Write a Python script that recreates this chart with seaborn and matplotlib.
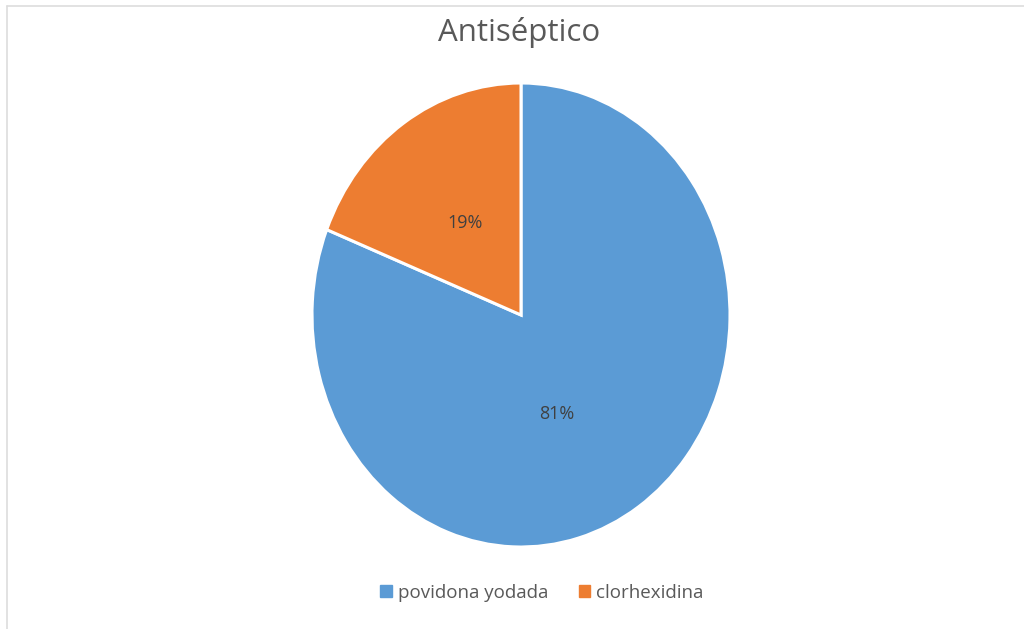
import matplotlib
matplotlib.use("Agg")
import matplotlib.pyplot as plt
import seaborn as sns
from matplotlib.lines import Line2D

categories = ["povidona yodada", "clorhexidina"]
values = [81, 19]
colors = ["#5B9BD5", "#ED7D31"]
title = "Antiséptico"

sns.set_theme(style="white")
plt.rcParams['font.family'] = ['Open Sans', 'DejaVu Sans']
palette = sns.color_palette(colors)

fig = plt.figure(figsize=(10.24, 6.29), dpi=100)
fig.patch.set_facecolor("white")

# faint chart-area border (left and top)
fig.add_artist(Line2D([7/1024, 7/1024], [0, 1 - 6/629], color="#dddddd", lw=1.2))
fig.add_artist(Line2D([7/1024, 1], [1 - 6/629, 1 - 6/629], color="#dddddd", lw=1.2))

ax = fig.add_axes([312/1024, (629-547)/629, 418/1024, 464/629])
wedges, texts, autotexts = ax.pie(
    values, colors=palette, startangle=90, counterclock=False,
    autopct=lambda p: f"{p:.0f}%", pctdistance=0.48,
    wedgeprops=dict(edgecolor="white", linewidth=2.2),
    textprops=dict(color="#404040", fontsize=13),
)
# Excel-like label placement for the large slice
autotexts[0].set_position((0.17, -0.425))
ax.set_aspect('auto')
ax.set_xlim(-1, 1)
ax.set_ylim(-1, 1)
ax.axis('off')

fig.text(519/1024, 1 - 33/629, title, ha="center", va="center",
         fontsize=22.5, color="#595959")

handles = [plt.Rectangle((0, 0), 1, 1, color=c) for c in palette]
fig.legend(handles, categories, loc="center", bbox_to_anchor=(542/1024, 1 - 593/629),
           ncol=2, frameon=False, fontsize=13.5, labelcolor="#595959",
           handlelength=0.6, handleheight=0.6, handletextpad=0.35, columnspacing=1.6)

fig.savefig("out.png", dpi=100, facecolor="white")
